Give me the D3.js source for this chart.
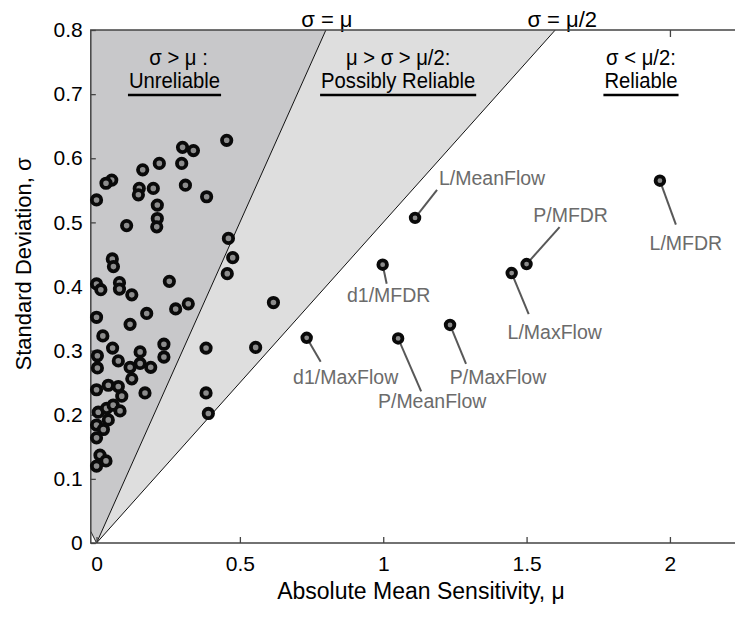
<!DOCTYPE html>
<html>
<head>
<meta charset="utf-8">
<script src="https://cdn.jsdelivr.net/npm/d3@7"></script>
<style>
  body { margin: 0; background: #fff; }
  text { font-family: "Liberation Sans", Arial, sans-serif; }
</style>
</head>
<body>
<div id="chart"></div>
<script>
// Unlabelled parameters: absolute mean sensitivity and standard deviation
var mu = [0.454, 0.300, 0.338, 0.219, 0.297, 0.161, 0.053, 0.033, 0.000, 0.149,
          0.146, 0.198, 0.310, 0.384, 0.212, 0.212, 0.210, 0.105, 0.460, 0.475,
          0.456, 0.055, 0.059, 0.254, 0.000, 0.015, 0.080, 0.080, 0.123, 0.320,
          0.276, 0.000, 0.175, 0.117, 0.022, 0.056, 0.003, 0.003, 0.076, 0.152,
          0.152, 0.117, 0.189, 0.123, 0.235, 0.235, 0.382, 0.555, 0.169, 0.382,
          0.390, 0.617, 0.000, 0.041, 0.076, 0.088, 0.006, 0.035, 0.058, 0.082,
          0.041, 0.000, 0.024, 0.000, 0.012, 0.033, 0.000];
var sigma = [0.628, 0.617, 0.612, 0.592, 0.592, 0.582, 0.566, 0.561, 0.535, 0.553,
             0.543, 0.553, 0.558, 0.540, 0.527, 0.506, 0.493, 0.495, 0.475, 0.445,
             0.420, 0.443, 0.431, 0.408, 0.404, 0.395, 0.406, 0.396, 0.387, 0.373,
             0.365, 0.352, 0.358, 0.341, 0.323, 0.304, 0.292, 0.273, 0.284, 0.298,
             0.280, 0.274, 0.274, 0.256, 0.310, 0.290, 0.304, 0.305, 0.234, 0.234,
             0.202, 0.375, 0.239, 0.246, 0.244, 0.229, 0.204, 0.210, 0.215, 0.206,
             0.192, 0.184, 0.177, 0.164, 0.137, 0.128, 0.120];

// Labelled parameters
var names = ["L/MeanFlow", "d1/MFDR", "d1/MaxFlow", "P/MeanFlow", "P/MaxFlow",
             "L/MaxFlow", "P/MFDR", "L/MFDR"];
var namedMu = [1.111, 0.998, 0.733, 1.052, 1.233, 1.448, 1.500, 1.965];
var namedSigma = [0.507, 0.434, 0.320, 0.319, 0.340, 0.421, 0.435, 0.565];

// Ticks
var xTicks = [0, 0.5, 1, 1.5, 2];
var xTickLabels = ["0", "0.5", "1", "1.5", "2"];
var yTicks = [0, 0.1, 0.2, 0.3, 0.4, 0.5, 0.6, 0.7, 0.8];
var yTickLabels = ["0", "0.1", "0.2", "0.3", "0.4", "0.5", "0.6", "0.7", "0.8"];

// Regions and boundaries
var boundaryNames = ["\u03c3 = \u03bc", "\u03c3 = \u03bc/2"];
var boundaryRatios = [1, 0.5];
var regionTitles = ["\u03c3 > \u03bc :", "\u03bc > \u03c3 > \u03bc/2:", "\u03c3 < \u03bc/2:"];
var regionNames = ["Unreliable", "Possibly Reliable", "Reliable"];

// Layout only (pixel offsets of leader ends and label anchors, region label centres)
var leaderEnd = [[22, -28], [4, 19], [14, 24], [23, 53], [16, 39], [17, 41], [33, -37], [16, 44]];
var labelAnchor = [[77, -33], [6, 37], [39, 46], [34, 70], [48, 59], [43, 66], [44, -42], [26, 69]];
var regionCenterMu = [0.272, 1.052, 1.899];

var width = 735, height = 617;

var svg = d3.select("#chart")
    .append("svg")
    .attr("width", width)
    .attr("height", height);

var x = d3.scaleLinear().domain([-0.02, 2.228]).range([90.8, 735.3]);
var y = d3.scaleLinear().domain([0, 0.8]).range([543, 30]);

var xMin = x.domain()[0], xMax = x.domain()[1];
var yMax = y.domain()[1];

// Top frame ticks (drawn first so the patches cover them)
svg.append("g")
    .attr("transform", "translate(0," + y(yMax) + ")")
    .call(d3.axisTop(x).tickValues(xTicks).tickSize(-7).tickFormat(""))
    .call(function(g) { g.select(".domain").remove(); })
    .selectAll("line").attr("stroke", "#444").attr("stroke-width", 1.3);

var line = d3.line().x(function(d) { return x(d[0]); }).y(function(d) { return y(d[1]); });

// Dark patch: sigma > mu
svg.append("path")
    .attr("d", line([[xMin, yMax], [yMax / boundaryRatios[0], yMax], [0, 0], [xMin, 0.018]]) + "Z")
    .attr("fill", "#c8c8ca");

// Light patch: mu > sigma > mu/2
svg.append("path")
    .attr("d", line([[0, 0], [yMax / boundaryRatios[0], yMax], [yMax / boundaryRatios[1], yMax]]) + "Z")
    .attr("fill", "#dedede");

// Boundary lines
boundaryRatios.forEach(function(r, i) {
    svg.append("path")
        .attr("d", line([[0, 0], [yMax / r, yMax]]))
        .attr("stroke", "#111")
        .attr("stroke-width", 1)
        .attr("fill", "none");

    svg.append("text")
        .attr("x", x(yMax / r) + (i === 0 ? 1 : 7))
        .attr("y", 27)
        .attr("text-anchor", "middle")
        .attr("font-size", 22)
        .attr("fill", "#000")
        .text(boundaryNames[i]);
});

// small edge at the origin of the dark patch
svg.append("path")
    .attr("d", line([[xMin, 0.018], [0, 0]]))
    .attr("stroke", "#222")
    .attr("stroke-width", 1)
    .attr("fill", "none");

// Frame lines
svg.append("path")
    .attr("d", line([[xMax, yMax], [xMin, yMax], [xMin, 0], [xMax, 0]]))
    .attr("stroke", "#444")
    .attr("stroke-width", 1.5)
    .attr("fill", "none");

// Bottom axis
var xAxis = svg.append("g")
    .attr("transform", "translate(0," + y(0) + ")")
    .call(d3.axisBottom(x).tickValues(xTicks).tickSize(-6).tickPadding(13)
        .tickFormat(function(d, i) { return xTickLabels[i]; }));
xAxis.select(".domain").remove();
xAxis.selectAll("line").attr("stroke", "#444").attr("stroke-width", 1.3);
xAxis.selectAll("text").attr("font-size", 21).attr("fill", "#000")
    .style("font-family", "'Liberation Sans', Arial, sans-serif");

// Left axis
var yAxis = svg.append("g")
    .attr("transform", "translate(" + x(xMin) + ",0)")
    .call(d3.axisLeft(y).tickValues(yTicks).tickSize(-5).tickPadding(8)
        .tickFormat(function(d, i) { return yTickLabels[i]; }));
yAxis.select(".domain").remove();
yAxis.selectAll("line").attr("stroke", "#444").attr("stroke-width", 1.3);
yAxis.selectAll("text").attr("font-size", 21).attr("fill", "#000")
    .style("font-family", "'Liberation Sans', Arial, sans-serif");

// Axis titles
svg.append("text")
    .attr("x", 421)
    .attr("y", 599)
    .attr("text-anchor", "middle")
    .attr("font-size", 23)
    .attr("fill", "#000")
    .text("Absolute Mean Sensitivity,  \u03bc");

svg.append("text")
    .attr("transform", "translate(31,264) rotate(-90)")
    .attr("text-anchor", "middle")
    .attr("font-size", 22)
    .attr("fill", "#000")
    .text("Standard Deviation, \u03c3");

// Region labels with underlined names (slightly condensed type)
var squeeze = 0.9;
regionTitles.forEach(function(t, i) {
    var cx = x(regionCenterMu[i]);
    svg.append("text")
        .attr("transform", "translate(" + (cx + (i === 0 ? 4 : 0)) + ",65) scale(" + squeeze + ",1)")
        .attr("text-anchor", "middle")
        .attr("font-size", 22.5)
        .text(t);
    var name = svg.append("text")
        .attr("transform", "translate(" + cx + ",88) scale(" + squeeze + ",1)")
        .attr("text-anchor", "middle")
        .attr("font-size", 22.5)
        .text(regionNames[i]);
    var w = name.node().getComputedTextLength() * squeeze;
    svg.append("line")
        .attr("x1", cx - w / 2 - 1)
        .attr("x2", cx + w / 2 + 1)
        .attr("y1", 95)
        .attr("y2", 95)
        .attr("stroke", "#000")
        .attr("stroke-width", 2.5);
});

// Unlabelled points
svg.append("g")
    .selectAll("circle")
    .data(d3.range(mu.length))
    .join("circle")
    .attr("cx", function(i) { return x(mu[i]); })
    .attr("cy", function(i) { return y(sigma[i]); })
    .attr("r", 4.7)
    .attr("fill", "#8c8c8c")
    .attr("stroke", "#0a0a0a")
    .attr("stroke-width", 3.8);

// Labelled points with leader lines
var named = svg.append("g")
    .selectAll("g")
    .data(d3.range(names.length))
    .join("g")
    .attr("transform", function(i) {
        return "translate(" + x(namedMu[i]) + "," + y(namedSigma[i]) + ")";
    });

named.append("line")
    .attr("x1", 0)
    .attr("y1", 0)
    .attr("x2", function(i) { return leaderEnd[i][0]; })
    .attr("y2", function(i) { return leaderEnd[i][1]; })
    .attr("stroke", "#585858")
    .attr("stroke-width", 2);

named.append("circle")
    .attr("r", 4.3)
    .attr("fill", "#8c8c8c")
    .attr("stroke", "#0a0a0a")
    .attr("stroke-width", 3.8);

named.append("text")
    .attr("x", function(i) { return labelAnchor[i][0]; })
    .attr("y", function(i) { return labelAnchor[i][1]; })
    .attr("text-anchor", "middle")
    .attr("font-size", 19.5)
    .attr("fill", "#6b6b6b")
    .text(function(i) { return names[i]; });
</script>
</body>
</html>
